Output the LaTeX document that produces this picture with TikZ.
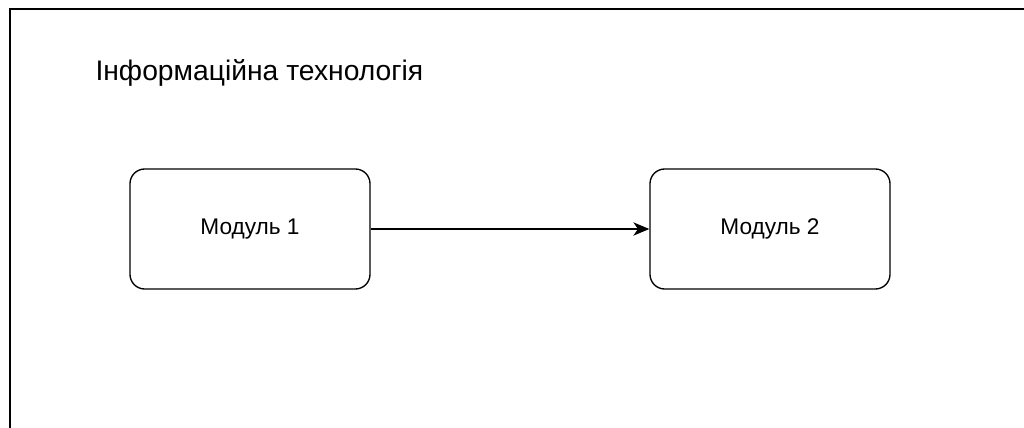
\documentclass[tikz,border=0pt]{standalone}
\usepackage{fontspec}
\setmainfont{Liberation Sans}
\usetikzlibrary{positioning, arrows.meta}

\begin{document}
\begin{tikzpicture}[x=0.75pt, y=-0.75pt, thick,
  module node/.style={rectangle, rounded corners=11pt, draw, line width=1pt,
    minimum width=180pt, minimum height=90pt, inner sep=0pt,
    font=\fontsize{17}{20}\selectfont}]

\useasboundingbox (0,0) rectangle (1024,428);

% frame (only top and left edges show)
\draw[line width=1.5pt] (10,428) -- (10,9) -- (1024,9);

\node[anchor=base west, font=\fontsize{21.2}{25}\selectfont, inner sep=0pt] (title) at (95,80) {Інформаційна технологія};

\node[module node] (M1) at (250,229) {Модуль 1};
\node[module node] (M2) at (770,229) {Модуль 2};

\path[line width=1pt, -{Stealth[length=12pt, width=10pt, inset=3.5pt]}]
(M1) edge (M2)
;

\end{tikzpicture}
\end{document}
